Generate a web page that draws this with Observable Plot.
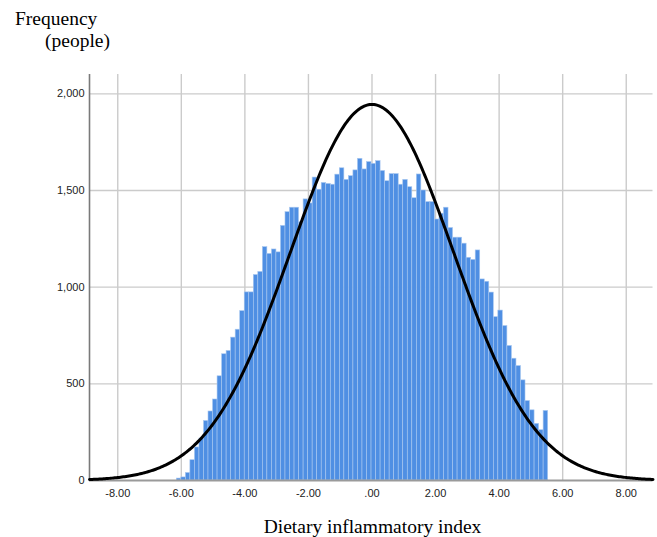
<!DOCTYPE html>
<html><head><meta charset="utf-8">
<script src="https://cdn.jsdelivr.net/npm/d3@7"></script>
<script src="https://cdn.jsdelivr.net/npm/@observablehq/plot@0.6"></script>
<style>
body{margin:0;background:#fff;}
#wrap{position:relative;width:657px;height:537px;overflow:hidden;}
.serif{position:absolute;font-family:"Liberation Serif","Times New Roman",serif;font-size:19.5px;color:#000;white-space:nowrap;line-height:1;}
</style></head><body>
<div id="wrap">
<div id="chart"></div>
<div class="serif" style="left:15px;top:8.7px;">Frequency</div>
<div class="serif" style="left:45px;top:30.7px;">(people)</div>
<div class="serif" id="xlab" style="left:0;width:745px;text-align:center;top:516.5px;">Dietary inflammatory index</div>
</div>
<script>
// histogram counts per bin (left to right)
const counts = [10,16,39,105,171,217,308,357,419,539,
  653,670,739,780,876,973,973,1063,1079,1207,
  1172,1195,1180,1317,1388,1411,1411,1336,1454,1433,
  1567,1504,1539,1534,1530,1582,1615,1555,1574,1604,
  1664,1609,1647,1638,1652,1601,1548,1585,1585,1530,
  1555,1517,1460,1583,1500,1440,1440,1350,1380,1411,
  1306,1256,1256,1225,1152,1141,1190,1040,1028,972,
  845,879,799,696,630,592,518,411,363,293,
  260,360];
const binStart = -6.142;
const binWidth = 0.1425;
// fitted normal curve parameters
const curveMean = 0;
const curveSD = 2.57;
const curvePeak = 1945;
// ticks
const xTicks = [-8,-6,-4,-2,0,2,4,6,8];
const xTickLabels = ["-8.00","-6.00","-4.00","-2.00",".00","2.00","4.00","6.00","8.00"];
const yTicks = [0,500,1000,1500,2000];
const yTickLabels = ["0","500","1,000","1,500","2,000"];
const xDomain = [-8.889, 8.842];
const yDomain = [0, 2100];

const bars = counts.map((c,i)=>({x1: binStart + i*binWidth, x2: binStart + (i+1)*binWidth, count: c}));
const curve = d3.range(0, 401).map(k => {
  const x = xDomain[0] + (xDomain[1]-xDomain[0])*k/400;
  return {x, y: curvePeak*Math.exp(-((x-curveMean)**2)/(2*curveSD*curveSD))};
});

const chart = Plot.plot({
  width: 657, height: 537,
  marginLeft: 89, marginRight: 4.5, marginTop: 74, marginBottom: 57,
  x: {domain: xDomain, axis: null},
  y: {domain: yDomain, axis: null},
  style: {background: "#fff", fontFamily: "'Liberation Sans', Arial, sans-serif"},
  marks: [
    Plot.ruleX(xTicks, {stroke: "#cbcbcb", strokeWidth: 1.4}),
    Plot.ruleY(yTicks.filter(d=>d>0), {stroke: "#cbcbcb", strokeWidth: 1.4}),
    Plot.rectY(bars, {x1: "x1", x2: "x2", y: "count", fill: "#4f8fe3", stroke: "#a9c8f0", strokeWidth: 0.6, inset: 0}),
    Plot.ruleY([0], {stroke: "#9a9a9a", strokeWidth: 2}),
    Plot.ruleX([xDomain[0]], {stroke: "#7a7a7a", strokeWidth: 1.6}),
    Plot.line(curve, {x: "x", y: "y", stroke: "#000", strokeWidth: 3, curve: "linear"}),
    Plot.axisX(xTicks, {tickSize: 0, tickPadding: 9, fontSize: 11, fill: "#222", tickFormat: (d,i)=>xTickLabels[xTicks.indexOf(d)], label: null}),
    Plot.axisY(yTicks, {tickSize: 0, tickPadding: 5, fontSize: 11, fill: "#222", tickFormat: (d)=>yTickLabels[yTicks.indexOf(d)], label: null})
  ]
});
document.getElementById("chart").appendChild(chart);
</script>
</body></html>
